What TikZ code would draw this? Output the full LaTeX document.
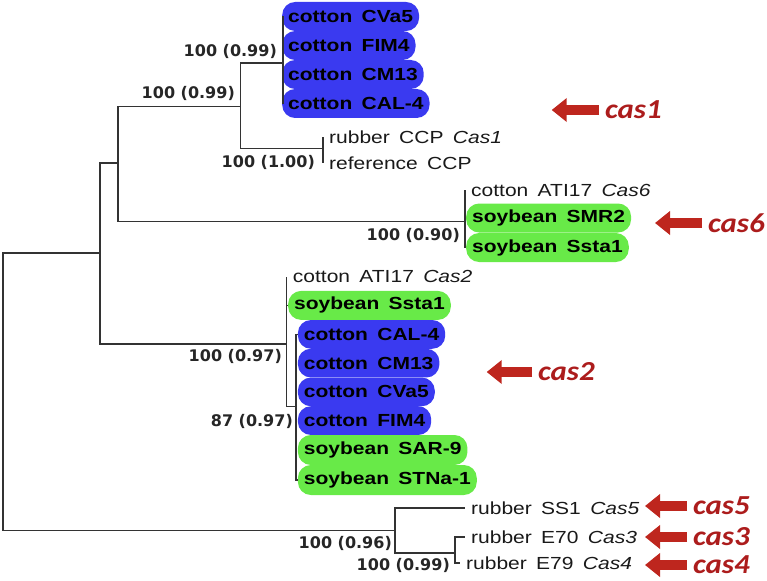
\documentclass[tikz,border=0pt]{standalone}
\usepackage{fontspec}
\usepackage{tikz}
\usetikzlibrary{arrows.meta}
\newfontfamily\leaffont[FakeStretch=1.2]{Liberation Sans}
\newfontfamily\boxfont[FakeStretch=1.2,WordSpace=1.6]{Liberation Sans}
\newfontfamily\bootfont{DejaVu Sans}
\newfontfamily\casfont[FakeStretch=1.12]{Carlito}
\definecolor{cotblue}{RGB}{58,58,240}
\definecolor{soygreen}{RGB}{104,234,72}
\definecolor{casred}{RGB}{190,38,30}
\definecolor{castext}{RGB}{172,28,28}

\begin{document}
\begin{tikzpicture}[x=1pt,y=-1pt,
  branch/.style={draw=black!80,line width=1.2pt},
  leaf/.style={anchor=west,inner xsep=6pt,inner ysep=0pt,text=black!90,
    font=\leaffont\fontsize{17.5}{17.5}\selectfont},
  cotton/.style={leaf,fill=cotblue,rounded corners=13pt,minimum height=29pt,text=black,
    font=\boxfont\bfseries\fontsize{17.5}{17.5}\selectfont},
  soy/.style={cotton,fill=soygreen},
  boot/.style={anchor=east,inner sep=0pt,text=black!85,
    font=\bootfont\bfseries\fontsize{16}{16}\selectfont},
  caslabel/.style={anchor=west,inner sep=0pt,text=castext,
    font=\casfont\bfseries\itshape\fontsize{27.5}{27.5}\selectfont},
  casarrow/.style={draw=casred,line width=10pt,-{Triangle[length=15pt,width=23pt]},shorten <=6pt}]
\useasboundingbox (0,0) rectangle (767,580);

\coordinate (root) at (3,392);
\coordinate (a) at (100,253);
\coordinate (b) at (118,163);
\coordinate (c) at (240.7,106.7);
\coordinate (d) at (283,63);
\coordinate (e) at (323,148.7);
\coordinate (f) at (465,221.3);
\coordinate (g) at (286.7,344);
\coordinate (h) at (296,406.7);
\coordinate (i) at (395,530.7);
\coordinate (j) at (455,553);

\node[cotton] (d1) at (282,16.5)  {cotton CVa5};
\node[cotton] (d2) at (282,45.5)  {cotton FIM4};
\node[cotton] (d3) at (282,74.5)  {cotton CM13};
\node[cotton] (d4) at (282,103.5) {cotton CAL-4};
\node[leaf] (e1) at (323,137) {rubber CCP \textit{Cas1}};
\node[leaf] (e2) at (323,163) {reference CCP};
\node[leaf] (f1) at (465,190) {cotton ATI17 \textit{Cas6}};
\node[soy] (f2) at (466,218)   {soybean SMR2};
\node[soy] (f3) at (466,247.5) {soybean Ssta1};
\node[leaf] (g1) at (286.7,276.7) {cotton ATI17 \textit{Cas2}};
\node[soy] (g2) at (288,305.4) {soybean Ssta1};
\node[cotton,minimum height=28.75pt] (h1) at (297.7,334.4) {cotton CAL-4};
\node[cotton,minimum height=28.75pt] (h2) at (297.7,363.1) {cotton CM13};
\node[cotton,minimum height=28.75pt] (h3) at (297.7,391.9) {cotton CVa5};
\node[cotton,minimum height=28.75pt] (h4) at (297.7,420.6) {cotton FIM4};
\node[soy,minimum height=30pt] (h5) at (297.7,450) {soybean SAR-9};
\node[soy,minimum height=30pt] (h6) at (297.7,480) {soybean STNa-1};
\node[leaf] (r5) at (465,508) {rubber SS1 \textit{Cas5}};
\node[leaf] (r3) at (465,537) {rubber E70 \textit{Cas3}};
\node[leaf] (r4) at (460,563) {rubber E79 \textit{Cas4}};

\draw[branch] (root) |- (a) (root) |- (i)
  (a) |- (b) (a) |- (g) (b) |- (c) (b) |- (f)
  (c) |- (d) (c) |- (e) (g) |- (h) (i) |- (j);
\draw[branch] (d) |- (d1.west) (d) |- (d4.west)
  (e) |- (e1.west) (e) |- (e2.west)
  (f) |- (f1.west) (f) |- (f3.west)
  (g) |- (g1.west) (g) |- (g2.west)
  (h) |- (h1.west) (h) |- (h6.west)
  (i) |- (r5.west) (j) |- (r3.west) (j) |- (r4.west);

\node[boot] (bd) at (277,51)    {100 (0.99)};
\node[boot] (bc) at (235,93)    {100 (0.99)};
\node[boot] (be) at (315,162)   {100 (1.00)};
\node[boot] (bf) at (460,235)   {100 (0.90)};
\node[boot] (bg) at (282,356.7) {100 (0.97)};
\node[boot] (bh) at (293,421.7) {87 (0.97)};
\node[boot] (bi) at (392,543)   {100 (0.96)};
\node[boot] (bj) at (450,565)   {100 (0.99)};

\node[caslabel] (c1) at (605,110) {cas1};
\node[caslabel] (c6) at (708,223) {cas6};
\node[caslabel] (c2) at (538,372) {cas2};
\node[caslabel] (c5) at (693,506) {cas5};
\node[caslabel] (c3) at (693,537) {cas3};
\node[caslabel] (c4) at (693,565) {cas4};
\coordinate (t1) at (551.7,110);
\coordinate (t6) at (655,223);
\coordinate (t2) at (486.7,372);
\coordinate (t5) at (645,506);
\coordinate (t3) at (645,537);
\coordinate (t4) at (645,565);
\foreach \k in {1,6,2,5,3,4}
  \draw[casarrow] (c\k.west) -- (t\k);
\end{tikzpicture}
\end{document}
